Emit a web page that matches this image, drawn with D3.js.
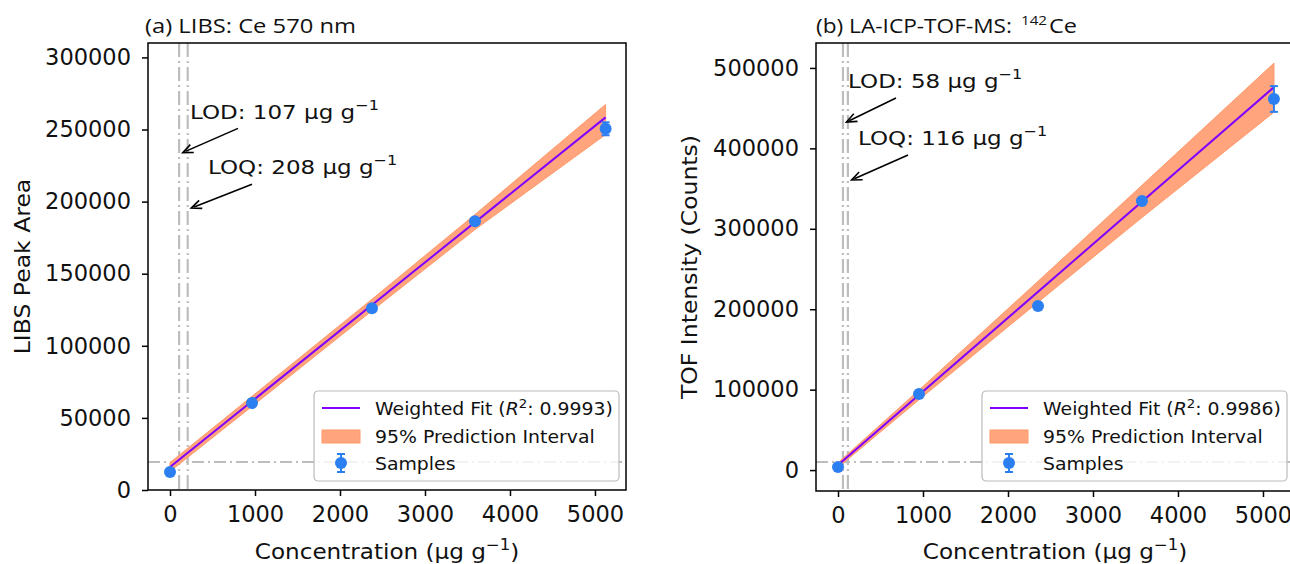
<!DOCTYPE html>
<html>
<head>
<meta charset="utf-8">
<script src="https://cdn.jsdelivr.net/npm/d3@7/dist/d3.min.js"></script>
<style>
  body { margin: 0; background: #fff; }
  svg { display: block; font-family: "DejaVu Sans", sans-serif; }
</style>
</head>
<body>
<div id="chart"></div>
<script>
// ---- data ----
// (a) LIBS
let concA = [0, 965, 2376, 3588, 5125];
let areaA = [12500, 60300, 126100, 186400, 250500];
let errA = [1200, 1200, 1500, 1500, 4500];
let fitXA = [0, 5125];
let fitYA = [15900, 258400];
let bandXA = [0, 965, 2376, 3588, 5125];
let bandLoA = [12900, 58000, 124300, 180600, 246500];
let bandHiA = [19000, 65000, 132300, 191000, 267400];
let lodA = 107, loqA = 208, blankA = 19400;
let r2A = "0.9993";

// (b) LA-ICP-TOF-MS
let concB = [0, 953, 2353, 3576, 5129];
let countsB = [3700, 94500, 204000, 334600, 461400];
let errB = [1500, 2000, 3000, 3500, 16000];
let fitXB = [0, 5129];
let fitYB = [6200, 476000];
let bandXB = [0, 953, 2353, 3576, 5129];
let bandLoB = [3200, 87500, 208700, 314000, 445000];
let bandHiB = [9200, 99500, 234700, 354000, 506000];
let lodB = 58, loqB = 116, blankB = 10000;
let r2B = "0.9986";

let xTicks = [0, 1000, 2000, 3000, 4000, 5000];
let yTicksA = [0, 50000, 100000, 150000, 200000, 250000, 300000];
let yTicksB = [0, 100000, 200000, 300000, 400000, 500000];

let svgWidth = 1290;
let svgHeight = 564;

let svg = d3.select("#chart")
  .append("svg")
  .attr("width", svgWidth)
  .attr("height", svgHeight);

let fitColor = "#7f00ff";
let bandColor = "#ffa47d";
let pointColor = "#2b7ff0";
let refColor = "#bdbdbd";

// text placed with a slight horizontal stretch (reference glyphs are wider)
function wideText(parent, x, y, sx, rot) {
  let tr = `translate(${x}, ${y})` + (rot ? ` rotate(${rot})` : "") + ` scale(${sx}, 1)`;
  return parent.append("text").attr("transform", tr).attr("fill", "#111");
}

function drawPanel(p) {
  let x = d3.scaleLinear().domain([-259, 5365]).range([p.left, p.right]);
  let y = d3.scaleLinear().domain(p.yDomain).range([p.bottom, p.top]);

  let g = svg.append("g");

  // reference lines (LOD / LOQ / blank level)
  g.append("line")
    .attr("x1", p.left).attr("x2", p.right)
    .attr("y1", y(p.blank)).attr("y2", y(p.blank))
    .attr("stroke", refColor).attr("stroke-width", 2)
    .attr("stroke-dasharray", "12,4,2,4");

  [p.lod, p.loq].forEach(v => {
    g.append("line")
      .attr("x1", x(v)).attr("x2", x(v))
      .attr("y1", p.top).attr("y2", p.bottom)
      .attr("stroke", refColor).attr("stroke-width", 2.2)
      .attr("stroke-dasharray", "14,4,2,4");
  });

  // prediction band
  let band = d3.area()
    .x((d, i) => x(p.bandX[i]))
    .y0((d, i) => y(p.bandLo[i]))
    .y1((d, i) => y(p.bandHi[i]));
  g.append("path")
    .attr("d", band(p.bandX))
    .attr("fill", bandColor)
    .attr("stroke", "#ff9a6a")
    .attr("stroke-width", 1);

  // fit line
  let line = d3.line()
    .x((d, i) => x(p.fitX[i]))
    .y((d, i) => y(p.fitY[i]));
  g.append("path")
    .attr("d", line(p.fitX))
    .attr("fill", "none")
    .attr("stroke", fitColor)
    .attr("stroke-width", 2);

  // samples with error bars
  p.cx.forEach((c, i) => {
    let v = p.cy[i], e = p.err[i];
    g.append("line")
      .attr("x1", x(c)).attr("x2", x(c))
      .attr("y1", y(v - e)).attr("y2", y(v + e))
      .attr("stroke", pointColor).attr("stroke-width", 2);
    [v - e, v + e].forEach(t => {
      g.append("line")
        .attr("x1", x(c) - 4).attr("x2", x(c) + 4)
        .attr("y1", y(t)).attr("y2", y(t))
        .attr("stroke", pointColor).attr("stroke-width", 2);
    });
    g.append("circle")
      .attr("cx", x(c)).attr("cy", y(v)).attr("r", 6)
      .attr("fill", pointColor);
  });

  // frame
  g.append("rect")
    .attr("x", p.left).attr("y", p.top)
    .attr("width", p.right - p.left).attr("height", p.bottom - p.top)
    .attr("fill", "none").attr("stroke", "#000").attr("stroke-width", 1.5);

  // axes
  let xAxis = d3.axisBottom(x).tickValues(xTicks).tickSize(6).tickPadding(10)
    .tickFormat(d3.format("d"));
  let yAxis = d3.axisLeft(y).tickValues(p.yTicks).tickSize(6).tickPadding(11)
    .tickFormat(d3.format("d"));

  let gx = g.append("g")
    .attr("transform", `translate(0, ${p.bottom})`)
    .call(xAxis);
  let gy = g.append("g")
    .attr("transform", `translate(${p.left}, 0)`)
    .call(yAxis);
  [gx, gy].forEach(a => {
    a.select(".domain").remove();
    a.selectAll(".tick line").attr("stroke", "#000").attr("stroke-width", 1.5);
    a.selectAll(".tick text")
      .attr("fill", "#111")
      .attr("font-size", "22.5px")
      .attr("font-family", "DejaVu Sans");
  });

  // axis labels
  let xl = wideText(g, (p.left + p.right) / 2, 559, 1.1, 0)
    .attr("text-anchor", "middle")
    .attr("font-size", "21px")
    .text("Concentration (µg g");
  xl.append("tspan").attr("dy", -9).attr("font-size", "15px").text("−1");
  xl.append("tspan").attr("dy", 9).text(")");

  wideText(g, p.yLabelX, (p.top + p.bottom) / 2, 1.12, -90)
    .attr("text-anchor", "middle")
    .attr("font-size", "21px")
    .text(p.yLabel);

  // title
  p.title(g);

  // LOD / LOQ annotations
  p.notes.forEach(n => {
    let tx = wideText(g, x(n.tx), y(n.ty), 1.15, 0)
      .attr("font-size", "20px")
      .text(n.label + " µg g");
    tx.append("tspan").attr("dy", -9).attr("font-size", "14px").text("−1");

    let x1 = x(n.ax), y1 = y(n.ay), x2 = x(n.hx), y2 = y(n.hy);
    let ang = Math.atan2(y2 - y1, x2 - x1);
    g.append("line")
      .attr("x1", x1).attr("y1", y1)
      .attr("x2", x2 - 3 * Math.cos(ang)).attr("y2", y2 - 3 * Math.sin(ang))
      .attr("stroke", "#000").attr("stroke-width", 1.6);
    let hl = 11;
    let pts = [
      [x2 - hl * Math.cos(ang - 0.4), y2 - hl * Math.sin(ang - 0.4)],
      [x2, y2],
      [x2 - hl * Math.cos(ang + 0.4), y2 - hl * Math.sin(ang + 0.4)]
    ];
    g.append("polyline")
      .attr("points", pts.map(d => d.join(",")).join(" "))
      .attr("fill", "none").attr("stroke", "#000").attr("stroke-width", 1.6);
  });

  // legend
  let lx = p.legendX, ly = 391;
  let lg = g.append("g").attr("transform", `translate(${lx}, ${ly})`);
  lg.append("rect")
    .attr("width", 305).attr("height", 90).attr("rx", 4)
    .attr("fill", "#fff").attr("fill-opacity", 0.8)
    .attr("stroke", "#bbb").attr("stroke-width", 1.2);
  lg.append("line")
    .attr("x1", 8).attr("x2", 46).attr("y1", 17).attr("y2", 17)
    .attr("stroke", fitColor).attr("stroke-width", 2);
  let l1 = wideText(lg, 61, 24, 1.11, 0)
    .attr("font-size", "17px")
    .text("Weighted Fit (");
  l1.append("tspan").attr("font-style", "italic").text("R");
  l1.append("tspan").attr("dy", -7).attr("font-size", "12px").text("2");
  l1.append("tspan").attr("dy", 7).text(": " + p.r2 + ")");

  lg.append("rect")
    .attr("x", 8).attr("y", 39).attr("width", 38).attr("height", 13)
    .attr("fill", bandColor).attr("stroke", "#ff9a6a");
  wideText(lg, 61, 52, 1.11, 0)
    .attr("font-size", "17px")
    .text("95% Prediction Interval");

  lg.append("line")
    .attr("x1", 27).attr("x2", 27).attr("y1", 63).attr("y2", 81)
    .attr("stroke", pointColor).attr("stroke-width", 2);
  [63, 81].forEach(v => {
    lg.append("line")
      .attr("x1", 23).attr("x2", 31).attr("y1", v).attr("y2", v)
      .attr("stroke", pointColor).attr("stroke-width", 2);
  });
  lg.append("circle").attr("cx", 27).attr("cy", 72).attr("r", 6).attr("fill", pointColor);
  wideText(lg, 61, 79, 1.11, 0)
    .attr("font-size", "17px")
    .text("Samples");
}

function titleText(g, x, txt, len, size) {
  return g.append("text")
    .attr("x", x).attr("y", 33)
    .attr("font-family", "Open Sans")
    .attr("font-size", size)
    .attr("fill", "#111")
    .attr("textLength", len)
    .attr("lengthAdjust", "spacingAndGlyphs")
    .text(txt);
}

drawPanel({
  left: 148, right: 626, top: 43, bottom: 490,
  yDomain: [0, 310000], yTicks: yTicksA,
  cx: concA, cy: areaA, err: errA,
  fitX: fitXA, fitY: fitYA,
  bandX: bandXA, bandLo: bandLoA, bandHi: bandHiA,
  lod: lodA, loq: loqA, blank: blankA, r2: r2A,
  yLabel: "LIBS Peak Area", yLabelX: 30,
  legendX: 314,
  title: g => titleText(g, 145, "(a) LIBS: Ce 570 nm", 211, "20px"),
  notes: [
    { label: "LOD: 107", tx: 235, ty: 257000, ax: 800, ay: 250800, hx: 150, hy: 234000 },
    { label: "LOQ: 208", tx: 447, ty: 219000, ax: 965, ay: 212000, hx: 250, hy: 195500 }
  ]
});

drawPanel({
  left: 816, right: 1294, top: 43, bottom: 491,
  yDomain: [-26000, 531000], yTicks: yTicksB,
  cx: concB, cy: countsB, err: errB,
  fitX: fitXB, fitY: fitYB,
  bandX: bandXB, bandLo: bandLoB, bandHi: bandHiB,
  lod: lodB, loq: loqB, blank: blankB, r2: r2B,
  yLabel: "TOF Intensity (Counts)", yLabelX: 697,
  legendX: 982,
  title: g => {
    titleText(g, 816, "(b) LA-ICP-TOF-MS:", 196, "20px");
    g.append("text")
      .attr("x", 1021).attr("y", 25)
      .attr("font-family", "Open Sans").attr("font-size", "12px")
      .attr("fill", "#111")
      .attr("textLength", 26).attr("lengthAdjust", "spacingAndGlyphs")
      .text("142");
    titleText(g, 1049, "Ce", 28, "20px");
  },
  notes: [
    { label: "LOD: 58", tx: 118, ty: 475000, ax: 682, ay: 462700, hx: 100, hy: 432800 },
    { label: "LOQ: 116", tx: 235, ty: 404000, ax: 824, ay: 391800, hx: 160, hy: 360700 }
  ]
});
</script>
</body>
</html>
